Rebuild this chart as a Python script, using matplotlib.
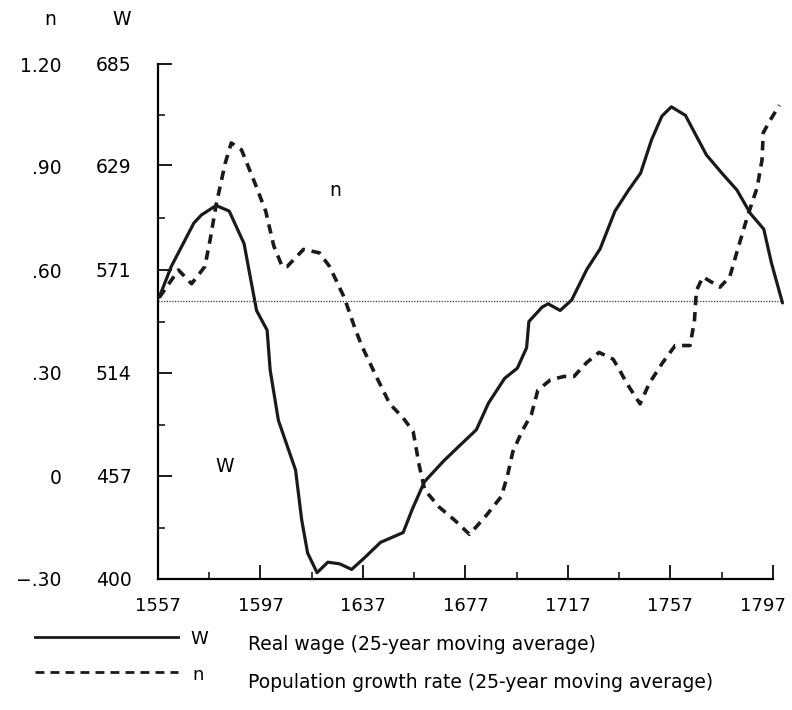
import matplotlib
matplotlib.use("Agg")
import matplotlib.pyplot as plt
from matplotlib.lines import Line2D
from matplotlib.transforms import ScaledTranslation

plt.rcParams['font.family'] = ['DejaVu Sans']

# real wage W, 25-year moving average
years_w = [1557.5, 1562.2, 1571.0, 1574.0, 1579.7, 1584.8, 1590.6, 1593.3, 1595.5,
           1599.6, 1600.8, 1604.0, 1610.7, 1613.1, 1615.4, 1619.1, 1623.3, 1627.9,
           1632.6, 1637.5, 1643.9, 1652.7, 1656.3, 1661.0, 1668.5, 1674.9, 1681.3,
           1686.0, 1692.3, 1697.3, 1700.9, 1701.8, 1707.0, 1709.3, 1714.0, 1718.5,
           1724.4, 1729.6, 1735.4, 1740.6, 1745.4, 1749.7, 1753.7, 1757.4, 1762.9,
           1767.0, 1771.1, 1777.5, 1783.0, 1788.3, 1793.5, 1796.5, 1800.8]
wage = [556, 573, 597, 601.5, 606.7, 603.6, 585.6, 565, 548.5,
        537.7, 515.5, 487.8, 460.3, 432.7, 414.4, 403.5, 409.3, 408.4,
        405.3, 411.6, 420.3, 425.7, 438.7, 453.8, 465.3, 474, 482.6,
        497.3, 511, 516.7, 528, 542.5, 550.5, 552.3, 548.6, 554.4,
        571.3, 582.7, 603.6, 615, 624.6, 643.1, 656.1, 661.3, 656.6,
        645.6, 634.7, 624, 615.3, 602.2, 593.6, 574.8, 552.8]

# population growth rate n, 25-year moving average
years_n = [1557.5, 1565.0, 1570.1, 1575.3, 1577.4, 1579.7, 1583.2, 1585.6, 1589.6,
           1595.0, 1599.1, 1602.2, 1605.5, 1607.4, 1613.8, 1620.0, 1624.0, 1629.7,
           1633.9, 1636.5, 1642.2, 1647.5, 1652.6, 1656.6, 1659.0, 1661.1, 1666.7,
           1673.0, 1678.6, 1684.6, 1691.0, 1693.4, 1695.5, 1699.1, 1702.8, 1705.3,
           1710.2, 1715.5, 1719.4, 1724.3, 1729.2, 1734.7, 1737.1, 1740.0, 1745.2,
           1748.8, 1754.0, 1758.9, 1764.7, 1766.4, 1767.2, 1769.7, 1776.4, 1780.2,
           1783.7, 1787.3, 1790.9, 1792.8, 1793.3, 1796.3, 1799.6]
growth = [0.52, 0.60, 0.56, 0.61, 0.69, 0.79, 0.91, 0.97, 0.95,
          0.85, 0.77, 0.67, 0.61, 0.61, 0.66, 0.65, 0.61, 0.52,
          0.43, 0.38, 0.29, 0.21, 0.17, 0.13, 0.03, -0.04, -0.09,
          -0.13, -0.17, -0.12, -0.06, 0.00, 0.07, 0.13, 0.18, 0.25,
          0.28, 0.29, 0.29, 0.33, 0.36, 0.34, 0.31, 0.27, 0.21,
          0.27, 0.33, 0.38, 0.38, 0.45, 0.54, 0.58, 0.55, 0.58,
          0.67, 0.76, 0.84, 0.92, 1.00, 1.04, 1.08]

ref_level = 554  # dotted horizontal line (W units)

x_ticks = [1557, 1597, 1637, 1677, 1717, 1757, 1797]
w_ticks = [400, 457, 514, 571, 629, 685]
n_ticks = [-0.30, 0, 0.30, 0.60, 0.90, 1.20]
n_labels = ['\u2212.30', '0', '.30', '.60', '.90', '1.20']

fig = plt.figure(figsize=(7.92, 7.10), dpi=100)
ax = fig.add_axes([158 / 792, 131 / 710, 625 / 792, 515 / 710])

ax.plot(years_w, wage, color='#1a1a1a', lw=2.3, solid_capstyle='round', solid_joinstyle='round',
        clip_on=False)
ax.axhline(ref_level, color='#333333', lw=0.9, ls=(0, (1, 1.2)))

ax.set_xlim(1557, 1801)
ax.set_ylim(400, 685)
for s in ['top', 'right']:
    ax.spines[s].set_visible(False)
ax.spines['bottom'].set_bounds(1557, 1797)
ax.spines['left'].set_linewidth(1.6)
ax.spines['bottom'].set_linewidth(1.6)

ax.set_xticks(x_ticks)
ax.set_xticks([t + 20 for t in x_ticks[:-1]], minor=True)
ax.set_yticks(w_ticks)
ax.set_yticks([428.5, 485.5, 542.5, 600, 657], minor=True)
ax.tick_params(which='major', direction='in', length=10, width=1.4, color='#1a1a1a')
ax.tick_params(which='minor', direction='in', length=5, width=1.2, color='#1a1a1a')
ax.tick_params(axis='x', pad=13, labelsize=13)
ax.tick_params(axis='y', pad=19, labelsize=13.5)
# keep the last year label inside the picture
last = ax.get_xticklabels()[-1]
last.set_transform(last.get_transform() + ScaledTranslation(-7 / 72, 0, fig.dpi_scale_trans))

ax2 = ax.twinx()
ax2.plot(years_n, growth, color='#1a1a1a', lw=2.6, ls=(0, (2.6, 1.9)), clip_on=False)
ax2.set_ylim(-0.30, 1.20)
ax2.set_xlim(1557, 1801)
for s in ['top', 'right', 'bottom']:
    ax2.spines[s].set_visible(False)
ax2.spines['left'].set_position(('axes', -0.154))
ax2.spines['left'].set_visible(False)
ax2.yaxis.set_ticks_position('left')
ax2.set_yticks(n_ticks, n_labels)
ax2.tick_params(axis='y', length=0, pad=0, labelsize=13.5, labelleft=True, labelright=False)

# column headers and curve labels
ax.text(-0.172, 1.087, 'n', transform=ax.transAxes, ha='center', va='center', fontsize=13.5)
ax.text(-0.058, 1.087, 'W', transform=ax.transAxes, ha='center', va='center', fontsize=13.5)
ax.text(1626, 615, 'n', ha='center', va='center', fontsize=13.5)
ax.text(1583, 462, 'W', ha='center', va='center', fontsize=13.5)

# legend underneath
fig.add_artist(Line2D([35 / 792, 178 / 792], [1 - 637 / 710] * 2, color='#1a1a1a', lw=2.0))
fig.add_artist(Line2D([35 / 792, 178 / 792], [1 - 672 / 710] * 2, color='#1a1a1a', lw=2.0,
                      ls=(0, (3.2, 2.2))))
fig.text(190 / 792, 1 - 639 / 710, 'W', ha='left', va='center', fontsize=13)
fig.text(192 / 792, 1 - 675 / 710, 'n', ha='left', va='center', fontsize=13)
fig.text(248 / 792, 1 - 645 / 710, 'Real wage (25-year moving average)', ha='left', va='center',
         fontsize=13.5)
fig.text(248 / 792, 1 - 682 / 710, 'Population growth rate (25-year moving average)', ha='left',
         va='center', fontsize=13.5)

fig.savefig('out.png', dpi=100)
